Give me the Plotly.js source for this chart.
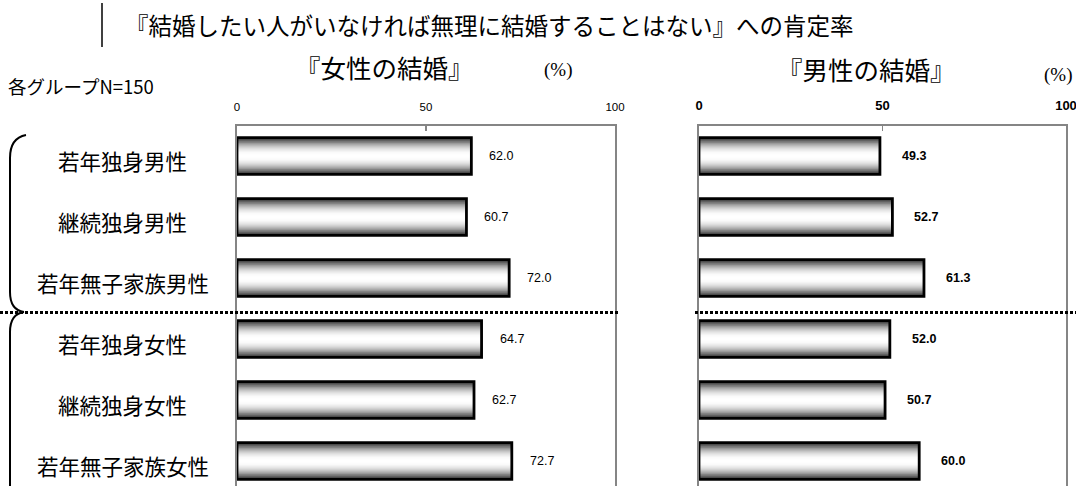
<!DOCTYPE html>
<html><head><meta charset="utf-8">
<script src="https://cdn.plot.ly/plotly-3.0.1.min.js"></script>
<style>html,body{margin:0;padding:0;background:#fff}#chart{width:1076px;height:486px}</style>
</head><body><div id="chart"></div>
<script>
// ---- data ----
const categories = ['若年独身男性','継続独身男性','若年無子家族男性','若年独身女性','継続独身女性','若年無子家族女性'];
const womenMarriage = [62.0, 60.7, 72.0, 64.7, 62.7, 72.7];   // 『女性の結婚』
const menMarriage   = [49.3, 52.7, 61.3, 52.0, 50.7, 60.0];   // 『男性の結婚』
const tickValues = [0, 50, 100];
const tickLabels = ['0', '50', '100'];
const chartTitle = '『結婚したい人がいなければ無理に結婚することはない』への肯定率';
const leftTitle = '『女性の結婚』';
const rightTitle = '『男性の結婚』';
const unitLabel = '(%)';
const sampleNote = '各グループN=150';

// ---- helpers ----
const W = 1076, H = 486;
const px = x => x / W;
const py = y => 1 - y / H;
const JP = '"Noto Sans CJK JP", "Noto Sans", sans-serif';
const NUM = '"Liberation Sans", Arial, sans-serif';

const BAR_W = 0.6, LAYERS = 14;
function gradientTraces(vals, xa, ya) {
  const t = [];
  for (let i = 0; i < LAYERS; i++) {
    const f = i / (LAYERS - 1);
    const g = Math.round(255 - 210 * Math.pow(1 - f, 2.0));
    t.push({
      type: 'bar', orientation: 'h', x: vals, y: categories, xaxis: xa, yaxis: ya,
      width: BAR_W * (1 - i / LAYERS), marker: {color: `rgb(${g},${g},${g})`, line: {width: 0}},
      hoverinfo: 'skip', showlegend: false
    });
  }
  t.push({
    type: 'bar', orientation: 'h', x: vals, y: categories, xaxis: xa, yaxis: ya,
    width: BAR_W, marker: {color: 'rgba(0,0,0,0)', line: {color: '#000', width: 2.8}},
    hoverinfo: 'skip', showlegend: false
  });
  return t;
}

const data = [].concat(gradientTraces(womenMarriage, 'x', 'y'), gradientTraces(menMarriage, 'x2', 'y2'));

const yTop = 125.5;
const yRange = [-0.5 + (H - yTop) / 61, -0.5];
const baseX = {
  range: [0, 100], side: 'top', tickvals: tickValues, ticktext: tickLabels,
  showline: true, linecolor: '#858585', linewidth: 2, ticks: 'inside', ticklen: 5, tickcolor: '#858585', tickwidth: 1.5,
  showgrid: false, zeroline: false, fixedrange: true, ticklabelstandoff: 8, ticklabeloverflow: 'allow'
};
const baseY = {
  type: 'category', categoryorder: 'array', categoryarray: categories, range: yRange,
  domain: [0, py(yTop)], showline: true, mirror: true, linecolor: '#858585', linewidth: 2,
  showticklabels: false, ticks: '', showgrid: false, zeroline: false, fixedrange: true
};

const annotations = [];
annotations.push({xref: 'paper', yref: 'paper', x: px(123), y: py(25), xanchor: 'left', yanchor: 'middle',
  text: chartTitle, showarrow: false, font: {family: JP, size: 23.5, color: '#000'}});
annotations.push({xref: 'paper', yref: 'paper', x: px(384), y: py(67), xanchor: 'center', yanchor: 'middle',
  text: leftTitle, showarrow: false, font: {family: JP, size: 25.5, color: '#000'}});
annotations.push({xref: 'paper', yref: 'paper', x: px(866), y: py(68), xanchor: 'center', yanchor: 'middle',
  text: rightTitle, showarrow: false, font: {family: JP, size: 25.5, color: '#000'}});
annotations.push({xref: 'paper', yref: 'paper', x: px(558), y: py(70), xanchor: 'center', yanchor: 'middle',
  text: unitLabel, showarrow: false, font: {family: '"Liberation Serif", serif', size: 19, color: '#000'}});
annotations.push({xref: 'paper', yref: 'paper', x: px(1058), y: py(75), xanchor: 'center', yanchor: 'middle',
  text: unitLabel, showarrow: false, font: {family: '"Liberation Serif", serif', size: 19, color: '#000'}});
annotations.push({xref: 'paper', yref: 'paper', x: px(6), y: py(86), xanchor: 'left', yanchor: 'middle',
  text: sampleNote, showarrow: false, font: {family: JP, size: 18.5, color: '#000'}});
categories.forEach((c, i) => {
  annotations.push({xref: 'paper', yref: 'y', x: px(123), y: c, xanchor: 'center', yanchor: 'middle', yshift: -4,
    text: c, showarrow: false, font: {family: JP, size: 21.5, color: '#000'}});
  annotations.push({xref: 'x', yref: 'y', x: womenMarriage[i], y: c, xanchor: 'left', yanchor: 'middle', xshift: 16,
    text: womenMarriage[i].toFixed(1), showarrow: false, font: {family: NUM, size: 12.5, color: '#000'}});
  annotations.push({xref: 'x2', yref: 'y2', x: menMarriage[i], y: c, xanchor: 'left', yanchor: 'middle', xshift: 20,
    text: '<b>' + menMarriage[i].toFixed(1) + '</b>', showarrow: false, font: {family: NUM, size: 12.5, color: '#000'}});
});

const upperBrace = `M ${px(26)} ${py(135)} Q ${px(10)} ${py(138)} ${px(10)} ${py(158)} L ${px(10)} ${py(292)} Q ${px(10)} ${py(310)} ${px(24)} ${py(312)}`;
const lowerBrace = `M ${px(24)} ${py(312)} Q ${px(10)} ${py(314)} ${px(10)} ${py(332)} L ${px(10)} ${py(490)}`;

const shapes = [
  {type: 'line', xref: 'paper', yref: 'paper', x0: px(102), x1: px(102), y0: py(3), y1: py(47), line: {color: '#000', width: 1.5}},
  {type: 'line', xref: 'paper', yref: 'paper', x0: px(0), x1: px(620), y0: py(312.5), y1: py(312.5), line: {color: '#000', width: 3, dash: '3px,2px'}},
  {type: 'line', xref: 'paper', yref: 'paper', x0: px(695), x1: px(1076), y0: py(312.5), y1: py(312.5), line: {color: '#000', width: 3, dash: '3px,2px'}},
  {type: 'path', xref: 'paper', yref: 'paper', path: upperBrace, line: {color: '#000', width: 2}},
  {type: 'path', xref: 'paper', yref: 'paper', path: lowerBrace, line: {color: '#000', width: 2}}
];

const layout = {
  width: W, height: H, margin: {l: 0, r: 0, t: 0, b: 0},
  paper_bgcolor: '#fff', plot_bgcolor: 'rgba(0,0,0,0)',
  barmode: 'overlay', showlegend: false,
  xaxis: Object.assign({}, baseX, {domain: [px(237), px(615)], anchor: 'y', tickfont: {family: NUM, size: 11.5, color: '#000'}}),
  yaxis: Object.assign({}, baseY, {anchor: 'x'}),
  xaxis2: Object.assign({}, baseX, {domain: [px(699), px(1066)], anchor: 'y2', tickfont: {family: NUM, size: 13, color: '#000', weight: 'bold'}}),
  yaxis2: Object.assign({}, baseY, {anchor: 'x2'}),
  annotations: annotations, shapes: shapes
};

Plotly.newPlot('chart', data, layout, {displayModeBar: false, staticPlot: true});
</script></body></html>
